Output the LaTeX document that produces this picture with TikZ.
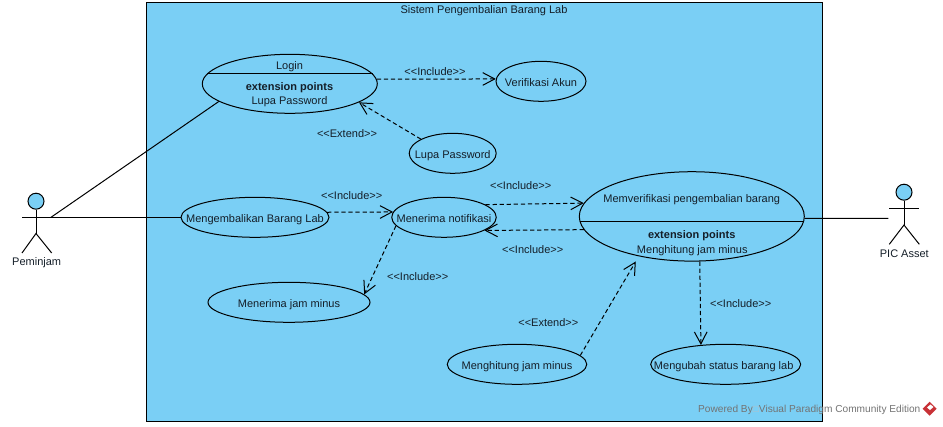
\documentclass[tikz,border=0pt]{standalone}
\usepackage{fontspec}
\setmainfont{Liberation Sans}
\usetikzlibrary{arrows.meta,shapes.geometric}

\definecolor{usecaseblue}{RGB}{122,207,245}
\definecolor{inktext}{RGB}{20,30,40}
\definecolor{logored}{RGB}{200,50,55}

\tikzset{
  usecase/.style 2 args={ellipse,draw,line width=0.75pt,inner sep=0pt,minimum width=#1*0.75pt,minimum height=#2*0.75pt},
  usecasetext/.style={text=inktext,inner sep=0pt,text height=5.9pt,text depth=0pt,yshift=-0.6pt},
  relabel/.style={usecasetext},
  assoc/.style={line width=0.75pt},
  dep/.style={line width=0.75pt,dash pattern=on 3.2pt off 2.1pt,-{Straight Barb[length=9pt,width=9.5pt,line width=0.75pt]}},
}

\begin{document}
\begin{tikzpicture}[x=0.75pt,y=-0.75pt,font=\fontsize{8.25pt}{10pt}\selectfont]

\useasboundingbox (0,0) rectangle (943,426);

\draw[fill=usecaseblue,line width=0.75pt] (146.5,2.7) rectangle (822.5,421.5);
\node[usecasetext] (system) at (484,9) {Sistem Pengembalian Barang Lab};

% actors
\node[circle,draw,fill=usecaseblue,line width=0.75pt,inner sep=0pt,minimum size=12pt] (peminjamhead) at (36,201.2) {};
\draw[assoc] (peminjamhead.south) -- (36,233.5);
\draw[assoc] (22,217.3) -- (51,217.3);
\draw[assoc] (22,253) -- (36,233.5) -- (51.7,253);
\node[usecasetext] (peminjamlabel) at (36.7,261) {Peminjam};
\coordinate (peminjam) at (51,217.3);

\node[circle,draw,fill=usecaseblue,line width=0.75pt,inner sep=0pt,minimum size=12pt] (pichead) at (904,192.2) {};
\draw[assoc] (pichead.south) -- (904,225);
\draw[assoc] (889.3,208.3) -- (919.3,208.3);
\draw[assoc] (889.3,244.3) -- (904,225) -- (919.3,244.3);
\node[usecasetext] (piclabel) at (904.3,252.3) {PIC Asset};
\coordinate (pic) at (888.3,218.3);

% use cases
\node[usecase={175}{59}] (login) at (289.8,83.8) {};
\draw[assoc] (207.3,73.3) -- (372.7,73.3);
\node[usecasetext] (logintitle) at (289.5,64.3) {Login};
\node[usecasetext] (loginext) at (289.5,85.3) {\bfseries extension points};
\node[usecasetext] (loginpoint) at (289.5,100) {Lupa Password};

\node[usecase={90}{40},label={[usecasetext]center:Verifikasi Akun}] (verifikasi) at (541,81.3) {};
\node[usecase={87}{40},label={[usecasetext]center:Lupa Password}] (lupa) at (452.7,153.3) {};
\node[usecase={148}{40},label={[usecasetext]center:Mengembalikan Barang Lab}] (mengembalikan) at (255,217.3) {};
\node[usecase={104.5}{40},label={[usecasetext]center:Menerima notifikasi}] (notifikasi) at (444,217.3) {};
\node[usecase={162}{40},label={[usecasetext]center:Menerima jam minus}] (jamminus) at (289,302.3) {};
\node[usecase={139.5}{40},label={[usecasetext]center:Menghitung jam minus}] (menghitung) at (517,364.3) {};
\node[usecase={150}{40},label={[usecasetext,xshift=-1.5pt]center:Mengubah status barang lab}] (mengubah) at (725.7,364.3) {};

\node[usecase={225}{89.4}] (verif) at (691.8,216.4) {};
\draw[assoc] (580,221) -- (803.5,221);
\node[usecasetext] (veriftitle) at (691.7,197.3) {Memverifikasi pengembalian barang};
\node[usecasetext] (verifext) at (691.7,233.3) {\bfseries extension points};
\node[usecasetext] (verifpoint) at (692.3,248.3) {Menghitung jam minus};

% connectors
\draw[assoc] (peminjam) -- (login.194.5);
\draw[assoc] (peminjam) -- (mengembalikan);
\draw[assoc] (verif.359) -- (pic);

\draw[dep] (login.3.2) -- (verifikasi.177);
\draw[dep] (lupa.156.8) -- (login.345.4);
\draw[dep] (mengembalikan.4.6) -- (notifikasi.174.5);
\draw[dep] (notifikasi.17.5) -- (verif.173.3);
\draw[dep] (verif.187.2) -- (notifikasi.342.8);
\draw[dep] (notifikasi.190.6) -- (jamminus.6);
\draw[dep,shorten >=4.5pt] (menghitung.8.3) -- (verif.217.5);
\draw[dep] (verif.280.6) -- (mengubah.142.8);

% labels
\node[relabel] (inclogin) at (435,71) {<{}<Include>{}>};
\node[relabel] (extlupa) at (347,133) {<{}<Extend>{}>};
\node[relabel] (incnotif) at (351.7,195) {<{}<Include>{}>};
\node[relabel] (incverif) at (520.7,185) {<{}<Include>{}>};
\node[relabel] (incback) at (532.7,249) {<{}<Include>{}>};
\node[relabel] (incjam) at (417.7,276) {<{}<Include>{}>};
\node[relabel] (exthitung) at (548.3,322) {<{}<Extend>{}>};
\node[relabel] (incubah) at (740.7,303) {<{}<Include>{}>};

% watermark
\node[text=black!55,inner sep=0pt,font=\fontsize{7.6pt}{9pt}\selectfont] (watermark) at (809.3,409.5) {Powered By{\color{black!25}□}Visual Paradigm Community Edition};
\fill[logored] (929.7,401.7) -- (936.7,408.7) -- (929.7,415.7) -- (922.7,408.7) -- cycle;
\fill[white] (930.5,404.5) -- (933.5,407) -- (930,410) -- (927,407.5) -- cycle;

\end{tikzpicture}
\end{document}
